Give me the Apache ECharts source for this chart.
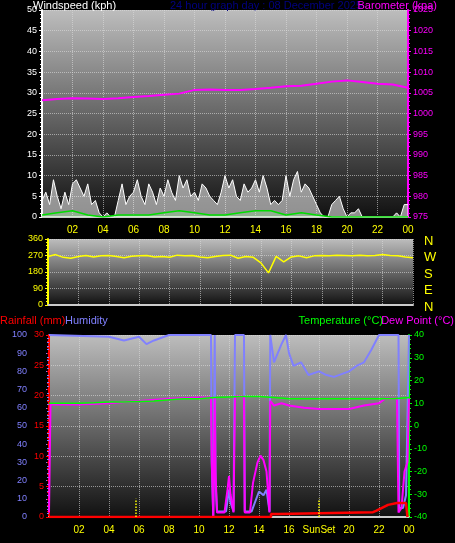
<!DOCTYPE html>
<html>
<head>
<meta charset="utf-8">
<script src="https://cdn.jsdelivr.net/npm/echarts@6/dist/echarts.min.js"></script>
<style>html,body{margin:0;background:#000;}#c{width:455px;height:543px;}</style>
</head>
<body>
<div id="c"></div>
<script>
// wind gusts every 15 min (kph)
var gust = [4,6,3,9, 5,2,6,3, 8,9,7,5, 8,3,4,1, 0,1,0,0, 4,8,3,5, 6,9,5,3, 8,6,3,7,
  5,9,6,4, 10,7,9,5, 6,4,8,7, 5,4,3,6, 10,7,9,5, 4,8,6,7, 9,6,10,7, 3,4,3,4,
  10,5,9,11, 6,8,7,5, 3,1,0,0, 3,4,5,2, 0,1,1,2, 0,0,0,0, 0,0,0,0, 0,1,0,3, 3];
// average wind hourly (kph)
var avgWind = [0.5,1,1.5,0.5,0,0.5,0.5,0.5,1,1.5,1,0.5,0.5,1,1.5,1.5,0.5,1,0.5,0,0,0,0,0,0];
// barometer hourly (hPa)
var baro = [1003.2,1003.5,1003.7,1003.6,1003.5,1003.7,1004,1004.2,1004.5,1004.8,1005.7,1005.8,1005.7,
  1005.7,1005.9,1006.2,1006.6,1006.7,1007.2,1007.7,1008,1007.6,1007.2,1007,1006.2];
// wind direction every 30 min (deg)
var windDir = [265,275,260,255,265,270,262,268,270,265,258,266,268,270,262,265,260,272,268,270,
  262,258,265,270,272,255,265,260,230,175,265,235,262,268,258,268,270,268,272,270,
  268,272,268,270,275,270,268,262,258];
// temperature hourly (C)
var temp = [10,10,10,10.2,10.5,10.5,10.8,11,11.5,12,12,12.5,12.8,13,13,12.5,12,12,12,12,12,12,12,12,12.5];
// dew point [hour, C]
var dewHours = [0,0.1,2,4,6,8,10,10.8,10.85,10.95,11.05,11.1,11.2,11.7,11.9,12,12.1,12.3,12.4,13,13.05,13.4,
  13.6,13.9,14.1,14.3,14.5,14.7,14.75,15,15.5,16,17,18,19,20,21,22,22.4,23.2,23.3,23.5,23.7,23.9,24];
var dew = [-38,9.5,9.5,10,11,12,12.5,12.5,-15,-40,12.5,-20,-38,-38,-28,-22,-30,-38,13,13,-38,-38,
  -25,-16,-13,-15,-20,-38,11,9,10,9,8,7.5,7.5,7.5,9,10,12,12,-38,-36,-20,-16,12];
// humidity [hour, %]
var humHours = [0,4,5,6,6.5,7,8,10.8,10.85,10.95,11.05,11.1,11.2,11.8,12,12.1,12.3,12.4,13,13.05,13.5,14,
  14.3,14.5,14.7,14.75,15,15.5,15.8,16,16.3,16.8,17.3,18,18.5,19,20,20.5,21,21.5,22,22.5,23.3,23.35,23.6,23.8,24];
var hum = [100,99,97,99,95,97,100,100,30,0,100,20,3,3,15,8,3,100,100,3,3,14,
  12,15,3,100,85,95,100,90,83,85,78,80,78,77,80,83,85,92,100,100,100,5,5,12,100];
// rainfall [hour, mm]
var rainHours = [0,14.8,14.8,15.3,15.3,21.6,21.8,22.2,22.6,23.2,23.8,23.9];
var rain = [0,0,0.5,0.5,0.8,0.8,1,1.5,2,2.3,2.3,0];
// sunrise / sunset hours
var sunTimes = [5.8, 18.0];

function pairs(xs, ys) { return ys.map(function (v, i) { return [xs[i], v]; }); }
function steps(n, step) { var a = []; for (var i = 0; i < n; i++) a.push(i * step); return a; }

var bg = {type:'linear',x:0,y:0,x2:0,y2:1,colorStops:[{offset:0,color:'#bdbdbd'},{offset:1,color:'#111'}]};
var f = 'Liberation Sans, Arial, sans-serif';
var gl = {show:true, lineStyle:{color:'rgba(220,220,220,0.6)', type:'dotted'}};

function xAx(i, fmt) {
  return {type:'value', gridIndex:i, min:0, max:24, interval:2,
    axisLine:{show:true, lineStyle:{color:'#ccc', width:2}}, axisTick:{show:false},
    splitLine:gl,
    axisLabel:{show:fmt !== null, color:'#ffff00', fontSize:10, fontFamily:f, margin:8,
      formatter:function (v) { if (v === 0) return ''; if (fmt && v === 18) return 'SunSet'; return v === 24 ? '00' : (v < 10 ? '0' + v : '' + v); }}};
}
function yAx(i, pos, min, max, interval, color, offset, split) {
  return {type:'value', gridIndex:i, position:pos, min:min, max:max, interval:interval, offset:offset || 0,
    axisLine:{show:true, lineStyle:{color:color, width: 2}},
    axisTick:{show:true, length:3, lineStyle:{color:color}},
    minorTick:{show:true, splitNumber:5, length:2, lineStyle:{color:color}},
    splitLine:split ? gl : {show:false},
    axisLabel:{color:color, fontSize:9, fontFamily:f, margin:5, formatter:function (v) { return '' + v; }}};
}

var chart = echarts.init(document.getElementById('c'));
chart.setOption({
  backgroundColor:'#000',
  animation:false,
  grid:[
    {left:42, top:10, width:366, height:207, show:true, backgroundColor:bg, borderWidth:0},
    {left:48, top:239, width:365, height:66, show:true, backgroundColor:bg, borderWidth:0},
    {left:49, top:335, width:360, height:182, show:true, backgroundColor:bg, borderWidth:0}
  ],
  xAxis:[xAx(0), xAx(1, null), xAx(2, 'sun')],
  yAxis:[
    yAx(0,'left',0,50,5,'#ffffff',0,true),
    yAx(0,'right',975,1025,5,'#ff00ff'),
    yAx(1,'left',0,360,90,'#ffff00',0,true),
    yAx(2,'left',0,100,10,'#8080ff',17),
    yAx(2,'left',0,30,5,'#ff0000',0,true),
    yAx(2,'right',-40,40,10,'#00ff00')
  ],
  graphic:[
    {type:'text', left:33, top:0, style:{text:'Windspeed (kph)', fill:'#fff', font:'11px '+f}},
    {type:'text', left:170, top:0, style:{text:'24 hour graph day : 08 December 2025', fill:'#000080', font:'11px '+f}},
    {type:'text', right:18, top:0, style:{text:'Barometer (kpa)', fill:'#ff00ff', font:'11px '+f}},
    {type:'text', left:0, top:315, style:{text:'Rainfall (mm)', fill:'#ff0000', font:'11px '+f}},
    {type:'text', left:65, top:315, style:{text:'Humidity', fill:'#8080ff', font:'11px '+f}},
    {type:'text', right:72, top:315, style:{text:'Temperature (°C)', fill:'#00ff00', font:'11px '+f}},
    {type:'text', right:1, top:315, style:{text:'Dew Point (°C)', fill:'#ff00ff', font:'11px '+f}},
    {type:'text', left:424, top:233, style:{text:'N\nW\nS\nE\nN', fill:'#ffff00', font:'13px '+f, lineHeight:16.5}}
  ],
  series:[
    {type:'line', xAxisIndex:0, yAxisIndex:0, data:pairs(steps(97,0.25), gust), symbol:'none',
      lineStyle:{color:'#fff', width:1}, areaStyle:{color:'rgba(245,245,245,0.8)'}},
    {type:'line', xAxisIndex:0, yAxisIndex:0, data:pairs(steps(25,1), avgWind), symbol:'none',
      lineStyle:{color:'#00dd00', width:1.5}, areaStyle:{color:'rgba(150,255,150,0.4)'}},
    {type:'line', xAxisIndex:0, yAxisIndex:1, data:pairs(steps(25,1), baro), symbol:'none',
      lineStyle:{color:'#ff00ff', width:2}},
    {type:'line', xAxisIndex:1, yAxisIndex:2, data:pairs(steps(49,0.5), windDir), symbol:'none',
      lineStyle:{color:'#ffff00', width:1.5}},
    {type:'line', xAxisIndex:2, yAxisIndex:3, data:pairs(humHours, hum), symbol:'none',
      lineStyle:{color:'#8080ff', width:2}},
    {type:'line', xAxisIndex:2, yAxisIndex:5, data:pairs(dewHours, dew), symbol:'none',
      lineStyle:{color:'#ff00ff', width:2}},
    {type:'line', xAxisIndex:2, yAxisIndex:5, data:pairs(steps(25,1), temp), symbol:'none',
      lineStyle:{color:'#00ff00', width:1.5}},
    {type:'line', xAxisIndex:2, yAxisIndex:4, data:pairs(rainHours, rain), symbol:'none',
      lineStyle:{color:'#ff0000', width:2.5}},
    {type:'line', xAxisIndex:2, yAxisIndex:4, data:[], symbol:'none',
      markLine:{symbol:'none', silent:true, label:{show:false},
        lineStyle:{color:'#ffff00', type:'dotted', width:1.5},
        data:sunTimes.map(function (h) { return [{coord:[h,0]},{coord:[h,3]}]; })}}
  ]
});
</script>
</body>
</html>
